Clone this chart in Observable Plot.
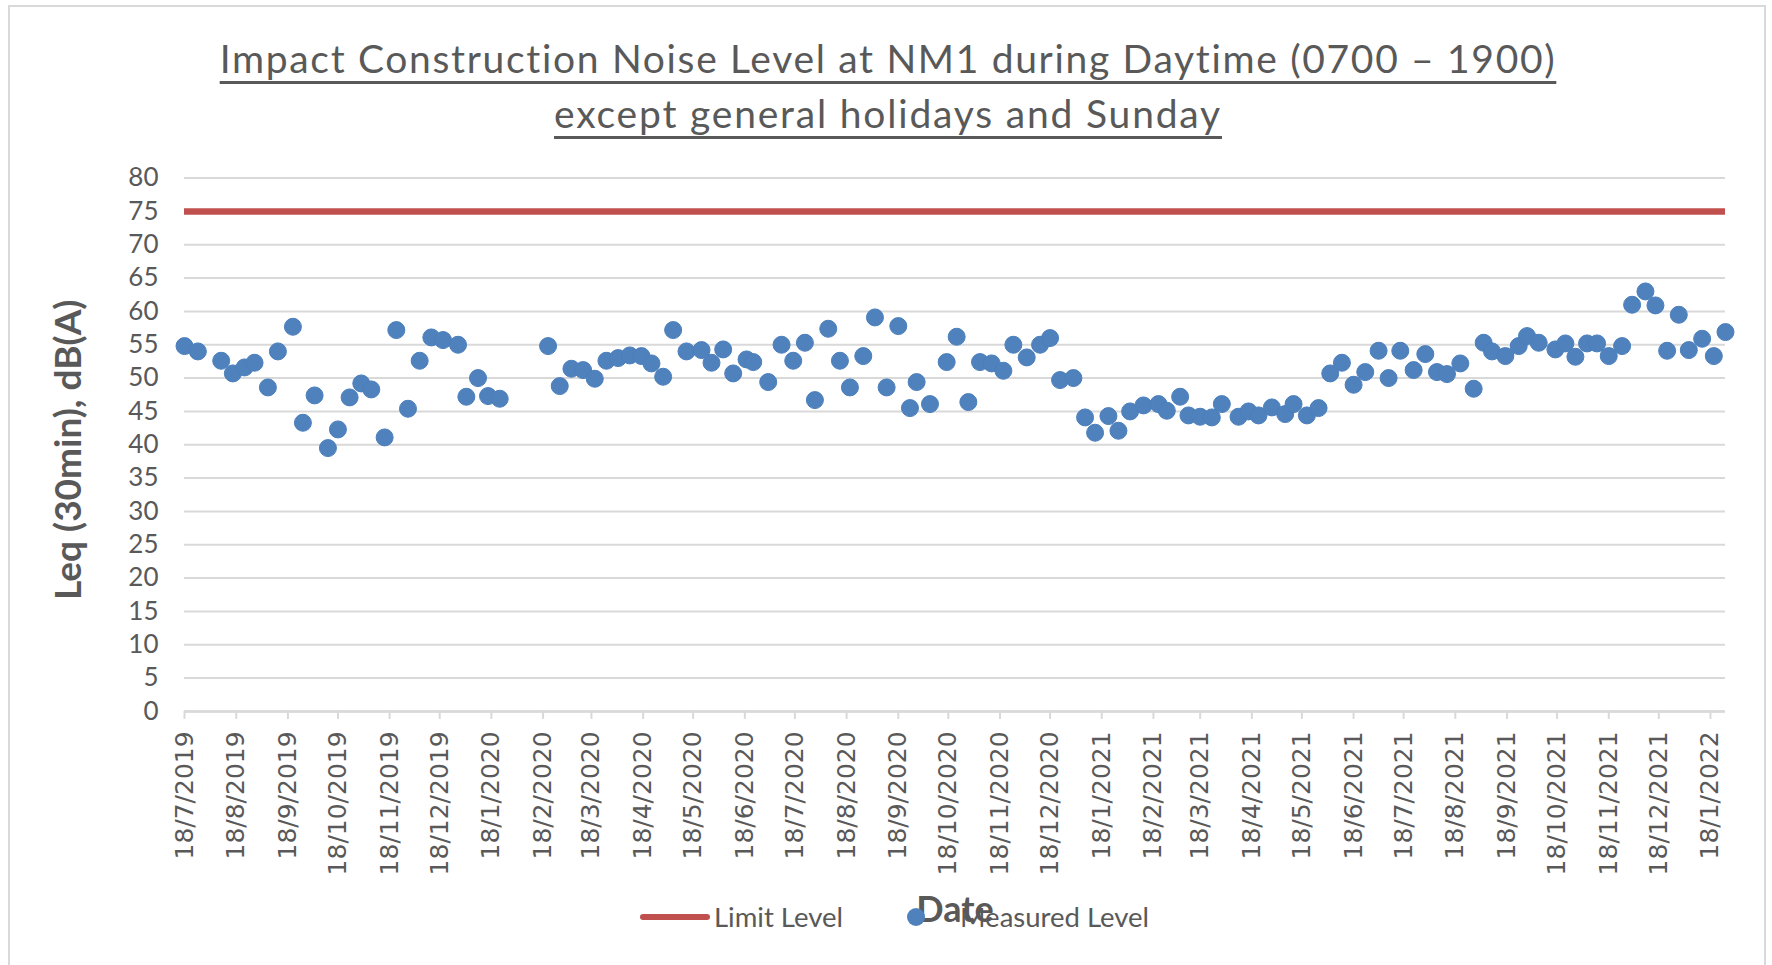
<!DOCTYPE html>
<html>
<head>
<meta charset="utf-8">
<script src="https://cdn.jsdelivr.net/npm/d3@7"></script>
<script src="https://cdn.jsdelivr.net/npm/@observablehq/plot@0.6"></script>
<style>
  html, body { margin: 0; padding: 0; background: #fff; overflow: hidden; }
  #page { position: relative; width: 1772px; height: 965px; overflow: hidden; font-family: Lato, sans-serif; }
  #frame { position: absolute; left: 8px; top: 4.5px; width: 1758px; height: 1000px; border: 2.5px solid #D9D9D9; box-sizing: border-box; pointer-events: none; }
  #title { position: relative; height: 140.6px; padding-top: 30.6px; box-sizing: border-box; text-align: center; padding-left: 4px; }
  #title div { font-size: 39px; line-height: 55px; color: #595959; white-space: nowrap; }
  #title span { text-decoration: underline; text-decoration-thickness: 2.5px; text-underline-offset: 8px; text-decoration-color: #595959; }
  #chart svg { display: block; }
  #legend { position: relative; height: 36px; margin-top: -36px; font-size: 27.5px; color: #595959; }
  #legend .sw-line { position: absolute; left: 640px; top: 15px; width: 70px; height: 6px; border-radius: 3px; background: #C0504D; }
  #legend .sw-dot { position: absolute; left: 907px; top: 9px; width: 18px; height: 18px; border-radius: 50%; background: #4F81BD; }
  #legend .lab { position: absolute; top: 0; line-height: 36px; white-space: nowrap; }
</style>
</head>
<body>
<div id="page">
  <div id="frame"></div>
  <div id="title">
    <div><span id="t1">Impact Construction Noise Level at NM1 during Daytime (0700 – 1900)</span></div>
    <div><span id="t2">except general holidays and Sunday</span></div>
  </div>
  <div id="chart"></div>
  <div id="legend">
    <div class="sw-line"></div><div class="lab" style="left:714px">Limit Level</div>
    <div class="sw-dot"></div><div class="lab" style="left:960px">Measured Level</div>
  </div>
</div>
<script>
// ---- data ----
const dates = [
  "2019-07-18","2019-07-26","2019-08-09","2019-08-16","2019-08-23","2019-08-29","2019-09-06","2019-09-12","2019-09-21","2019-09-27",
  "2019-10-04","2019-10-12","2019-10-18","2019-10-25","2019-11-01","2019-11-07","2019-11-15","2019-11-22","2019-11-29","2019-12-06",
  "2019-12-13","2019-12-20","2019-12-29","2020-01-03","2020-01-10","2020-01-16","2020-01-23",
  "2020-02-21","2020-02-28","2020-03-06","2020-03-13","2020-03-20","2020-03-27","2020-04-03","2020-04-10","2020-04-17","2020-04-23",
  "2020-04-30","2020-05-06","2020-05-14","2020-05-23","2020-05-29","2020-06-05","2020-06-11","2020-06-19","2020-06-23","2020-07-02",
  "2020-07-10","2020-07-17","2020-07-24","2020-07-30","2020-08-07","2020-08-14","2020-08-20","2020-08-28","2020-09-04","2020-09-11",
  "2020-09-18","2020-09-25","2020-09-29",
  "2020-10-07","2020-10-17","2020-10-23","2020-10-30","2020-11-06","2020-11-13","2020-11-20","2020-11-26","2020-12-04","2020-12-12",
  "2020-12-18","2020-12-24","2021-01-01","2021-01-08","2021-01-14","2021-01-22","2021-01-28","2021-02-04","2021-02-12","2021-02-21",
  "2021-02-26","2021-03-06","2021-03-11","2021-03-18","2021-03-25","2021-03-31","2021-04-10","2021-04-16","2021-04-22","2021-04-30",
  "2021-05-08","2021-05-13","2021-05-21",
  "2021-05-28","2021-06-04","2021-06-11","2021-06-18","2021-06-25","2021-07-03","2021-07-09","2021-07-16","2021-07-24","2021-07-31",
  "2021-08-07","2021-08-13","2021-08-21","2021-08-29","2021-09-04","2021-09-09","2021-09-17","2021-09-25","2021-09-30","2021-10-07",
  "2021-10-17","2021-10-23","2021-10-29","2021-11-05","2021-11-11","2021-11-18","2021-11-26","2021-12-02","2021-12-10","2021-12-16",
  "2021-12-23","2021-12-30","2022-01-05","2022-01-13","2022-01-20","2022-01-27"
];
const measuredLevel = [
  54.8, 54.0, 52.6, 50.7, 51.6, 52.3, 48.6, 54.0, 57.7, 43.3,
  47.4, 39.5, 42.3, 47.1, 49.2, 48.3, 41.1, 57.2, 45.4, 52.6,
  56.1, 55.7, 55.0, 47.2, 50.0, 47.3, 46.9,
  54.8, 48.8, 51.4, 51.2, 49.9, 52.6, 53.0, 53.4, 53.3, 52.2,
  50.2, 57.2, 54.0, 54.2, 52.3, 54.3, 50.7, 52.8, 52.4, 49.4,
  55.0, 52.6, 55.3, 46.7, 57.4, 52.6, 48.6, 53.3, 59.1, 48.6,
  57.8, 45.5, 49.4,
  46.1, 52.4, 56.2, 46.4, 52.4, 52.2, 51.1, 55.0, 53.1, 55.0,
  56.0, 49.7, 50.0, 44.1, 41.8, 44.3, 42.1, 45.0, 45.9, 46.1,
  45.1, 47.2, 44.4, 44.2, 44.1, 46.1, 44.2, 45.0, 44.4, 45.6,
  44.6, 46.1, 44.4,
  45.5, 50.7, 52.3, 49.0, 50.9, 54.1, 50.0, 54.1, 51.2, 53.6,
  50.9, 50.6, 52.2, 48.4, 55.3, 54.0, 53.3, 54.8, 56.3, 55.3,
  54.3, 55.2, 53.2, 55.2, 55.2, 53.3, 54.8, 61.0, 63.0, 60.9,
  54.1, 59.5, 54.2, 55.9, 53.3, 56.9
];
const limitLevel = 75;
const yTicks = [0, 5, 10, 15, 20, 25, 30, 35, 40, 45, 50, 55, 60, 65, 70, 75, 80];
const xTickLabels = [
  "18/7/2019","18/8/2019","18/9/2019","18/10/2019","18/11/2019","18/12/2019",
  "18/1/2020","18/2/2020","18/3/2020","18/4/2020","18/5/2020","18/6/2020","18/7/2020","18/8/2020","18/9/2020","18/10/2020","18/11/2020","18/12/2020",
  "18/1/2021","18/2/2021","18/3/2021","18/4/2021","18/5/2021","18/6/2021","18/7/2021","18/8/2021","18/9/2021","18/10/2021","18/11/2021","18/12/2021",
  "18/1/2022"
];
const yLabel = "Leq (30min), dB(A)";
const xLabel = "Date";

// ---- build ----
const parseDMY = s => { const [d, m, y] = s.split("/").map(Number); return new Date(Date.UTC(y, m - 1, d)); };
const fmtDMY = d => `${d.getUTCDate()}/${d.getUTCMonth() + 1}/${d.getUTCFullYear()}`;
const data = dates.map((d, i) => ({date: new Date(d + "T00:00:00Z"), level: measuredLevel[i]}));
const xTicks = xTickLabels.map(parseDMY);

const chart = Plot.plot({
  width: 1772,
  height: 794.4,
  marginTop: 36.6,
  marginBottom: 224.5,
  marginLeft: 184,
  marginRight: 47,
  style: {fontFamily: "Lato, sans-serif", color: "#595959", background: "transparent", overflow: "visible"},
  x: {type: "utc", domain: [xTicks[0], data[data.length - 1].date]},
  y: {domain: [0, 80]},
  marks: [
    Plot.gridY(yTicks, {stroke: "#D9D9D9", strokeWidth: 2, strokeOpacity: 1}),
    Plot.ruleY([0], {stroke: "#D9D9D9", strokeWidth: 2.5}),
    Plot.axisY(yTicks, {tickSize: 0, tickPadding: 26, fontSize: 26, label: null, fill: "#595959"}),
    Plot.axisX(xTicks, {tickFormat: fmtDMY, tickRotate: -90, tickSize: 8, tickPadding: 12, fontSize: 25,
      fontFamily: "DejaVu Sans", stroke: "#D9D9D9", strokeWidth: 2, fill: "#595959", label: null}),
    Plot.ruleY([limitLevel], {stroke: "#C0504D", strokeWidth: 6.5}),
    Plot.dot(data, {x: "date", y: "level", r: 8.5, fill: "#4F81BD", stroke: "#4A7EBB", strokeWidth: 1}),
    Plot.text([yLabel], {frameAnchor: "left", textAnchor: "middle", rotate: -90, dx: -115, dy: 5, fontSize: 37, fontWeight: "bold", fill: "#595959"}),
    Plot.text([xLabel], {frameAnchor: "bottom", dy: 211, fontSize: 36, fontWeight: "bold", fill: "#595959"})
  ]
});
document.getElementById("chart").appendChild(chart);

// adjust title letter spacing to the reference's line widths
function fitWidth(id, target) {
  const el = document.getElementById(id);
  const w = el.getBoundingClientRect().width;
  const n = el.textContent.length;
  el.style.letterSpacing = ((target - w) / n) + "px";
}
fitWidth("t1", 1338);
fitWidth("t2", 668);
</script>
</body>
</html>
